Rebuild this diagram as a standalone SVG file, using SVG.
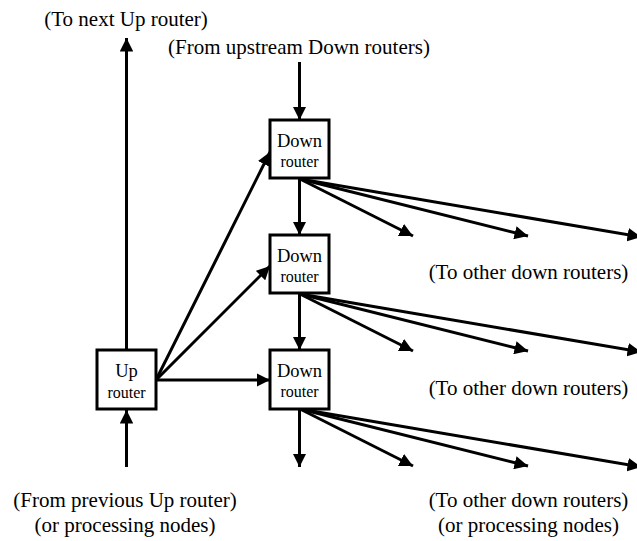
<svg xmlns="http://www.w3.org/2000/svg" width="637" height="541" viewBox="0 0 637 541">
<style>
text{font-family:"Liberation Serif","Times New Roman",serif;fill:#000;text-anchor:middle}
.lbl{font-size:21px}
.big{font-size:18.5px}
.sm{font-size:16px}
.box{fill:#fff;stroke:#000;stroke-width:3}
.c line{stroke:#000;stroke-width:3;marker-end:url(#ah)}
.c line.n{marker-end:none}
</style>
<defs>
<marker id="ah" viewBox="0 0 10 10" refX="10" refY="5" markerWidth="4.5" markerHeight="4.5" markerUnits="strokeWidth" orient="auto">
<path d="M0,0 L10,5 L0,10 z" fill="#000"/>
</marker>
</defs>
<rect width="637" height="541" fill="#fff"/>
<g class="c" id="connectors">
<line x1="126.5" y1="350" x2="126.5" y2="38"/>
<line x1="126.5" y1="467" x2="126.5" y2="410"/>
<line x1="299.5" y1="62" x2="299.5" y2="120"/>
<line x1="156" y1="380" x2="270" y2="152"/>
<line x1="156" y1="380" x2="270" y2="266"/>
<line x1="156" y1="380" x2="270" y2="380"/>
<line x1="299.5" y1="178" x2="299.5" y2="235"/>
<line x1="299.5" y1="293" x2="299.5" y2="350"/>
<line x1="299.5" y1="409" x2="299.5" y2="467"/>
<line x1="300" y1="179" x2="413" y2="236"/>
<line x1="300" y1="179" x2="528" y2="236"/>
<line x1="300" y1="179" x2="641" y2="237"/>
<line x1="300" y1="294" x2="413" y2="351"/>
<line x1="300" y1="294" x2="528" y2="351"/>
<line x1="300" y1="294" x2="641" y2="352"/>
<line x1="300" y1="409" x2="413" y2="466"/>
<line x1="300" y1="409" x2="528" y2="466"/>
<line x1="300" y1="409" x2="641" y2="467"/>
</g>
<g id="up">
<rect class="box" x="97" y="350" width="59" height="59"/>
<text class="big" x="126.5" y="377">Up</text>
<text class="sm" x="126.5" y="398">router</text>
</g>
<g id="down1">
<rect class="box" x="270" y="120" width="59" height="58"/>
<text class="big" x="299.5" y="147">Down</text>
<text class="sm" x="299.5" y="167">router</text>
</g>
<g id="down2">
<rect class="box" x="270" y="235" width="59" height="58"/>
<text class="big" x="299.5" y="262">Down</text>
<text class="sm" x="299.5" y="282">router</text>
</g>
<g id="down3">
<rect class="box" x="270" y="350" width="59" height="59"/>
<text class="big" x="299.5" y="377">Down</text>
<text class="sm" x="299.5" y="397">router</text>
</g>
<g id="labels">
<text class="lbl" x="126" y="26">(To next Up router)</text>
<text class="lbl" x="299" y="54">(From upstream Down routers)</text>
<text class="lbl" x="528.5" y="279">(To other down routers)</text>
<text class="lbl" x="528.5" y="395">(To other down routers)</text>
<text class="lbl" x="528.5" y="507">(To other down routers)</text>
<text class="lbl" x="528.5" y="532">(or processing nodes)</text>
<text class="lbl" x="125" y="507">(From previous Up router)</text>
<text class="lbl" x="125" y="532">(or processing nodes)</text>
</g>
</svg>
